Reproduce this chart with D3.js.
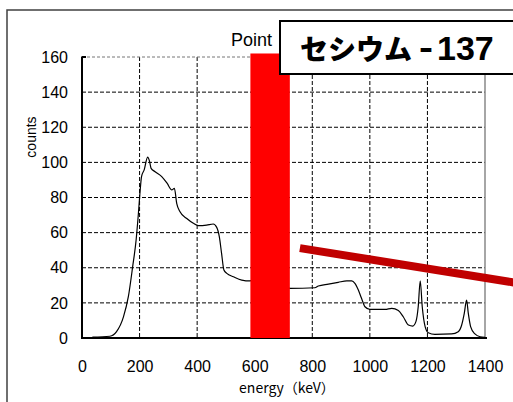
<!DOCTYPE html>
<html>
<head>
<meta charset="utf-8">
<script src="https://cdn.jsdelivr.net/npm/d3@7"></script>
<style>
  html, body { margin: 0; padding: 0; background: #fff; }
  svg { display: block; }
</style>
</head>
<body>
<script>
// Gamma-ray spectrum: energy (keV) vs counts
const energy = [36, 97, 120, 144, 161, 176, 188, 196, 201, 207, 216, 228, 234, 240, 254, 277, 296, 312, 321, 329, 340, 364, 387, 404, 433, 456, 468, 477, 485, 493, 503, 526, 555, 584,
  610, 635, 650, 662, 675, 690, 708,
  723, 809, 821, 856, 890, 920, 937, 948, 960, 971, 983, 1000, 1053, 1076, 1099, 1116, 1134, 1149, 1160, 1168, 1175, 1182, 1192, 1203, 1226, 1284, 1307, 1319, 1328, 1336, 1342, 1350, 1365, 1383, 1400];
const counts = [0.5, 1, 3.6, 12, 23.5, 40.6, 55.8, 71, 82, 92, 95.7, 103, 101, 96.6, 94.7, 91.9, 88, 84.3, 85.2, 76.7, 72, 68, 65.3, 64, 64.3, 64.9, 63, 57.7, 48, 38.7, 36.8, 34.9, 33, 32.5,
  40, 90, 140, 155, 120, 45, 29,
  28.3, 28.6, 29.6, 30.7, 31.7, 32.5, 32.5, 31.1, 27.3, 22.6, 17.8, 16.3, 16.3, 16.9, 15.6, 12.1, 7.4, 6.8, 9.3, 17.8, 32.6, 17.8, 6.5, 3, 2.1, 2.3, 3.6, 7.4, 14, 21.6, 14, 6.5, 2.3, 0.7, 0.4];

const xTicks = [0, 200, 400, 600, 800, 1000, 1200, 1400];
const yTicks = [0, 20, 40, 60, 80, 100, 120, 140, 160];

// Band hiding the 662 keV region, in data units
const bandEnergy = [585, 722];
const bandCounts = [0, 162];

// Slanted annotation stroke, in data units
const slashEnergy = [757, 1500];
const slashCounts = [51.2, 31.6];

const titleText = "Point";
const labelText = "セシウム";
const labelDash = "-";
const labelNumber = "137";
const xTitle = "energy（keV）";
const yTitle = "counts";

const W = 513, H = 402;
const svg = d3.select("body").append("svg").attr("width", W).attr("height", H);

// outer chart frame
svg.append("rect").attr("x", 7).attr("y", 10).attr("width", W).attr("height", H)
  .attr("fill", "#fff").attr("stroke", "#404040").attr("stroke-width", 1.5);

const x = d3.scaleLinear().domain([0, 1400]).range([82, 485]);
const y = d3.scaleLinear().domain([0, 160]).range([338, 57]);

// title (partly covered by the nuclide label)
svg.append("text").attr("x", 231).attr("y", 46)
  .attr("font-family", "Liberation Sans, Arial, sans-serif").attr("font-size", 18)
  .attr("fill", "#000").text(titleText);

// grid lines
const grid = svg.append("g");
grid.selectAll("line.v").data(xTicks.filter(d => d > 0 && d < 1400)).join("line")
  .attr("x1", d => x(d)).attr("x2", d => x(d)).attr("y1", y(160)).attr("y2", y(0))
  .attr("stroke", "#000").attr("stroke-width", 1).attr("stroke-dasharray", "4,2");
grid.selectAll("line.h").data(yTicks.filter(d => d > 0 && d < 160)).join("line")
  .attr("x1", x(0)).attr("x2", x(1400)).attr("y1", d => y(d)).attr("y2", d => y(d))
  .attr("stroke", "#000").attr("stroke-width", 1).attr("stroke-dasharray", "4,2");
grid.append("line").attr("x1", x(0)).attr("x2", x(1400)).attr("y1", y(160)).attr("y2", y(160))
  .attr("stroke", "#777").attr("stroke-width", 1).attr("stroke-dasharray", "3,2");
grid.append("line").attr("x1", x(1400)).attr("x2", x(1400)).attr("y1", y(160)).attr("y2", y(0))
  .attr("stroke", "#888").attr("stroke-width", 1.5);

// spectrum
const pts = energy.map((e, i) => [e, counts[i]]);
svg.append("path").datum(pts)
  .attr("d", d3.line().x(d => x(d[0])).y(d => y(d[1])).curve(d3.curveMonotoneX))
  .attr("fill", "none").attr("stroke", "#000").attr("stroke-width", 1.2);

// axes
const yAxis = d3.axisLeft(y).tickValues(yTicks).tickFormat(d3.format("d")).tickSize(0).tickPadding(14);
const gy = svg.append("g").attr("transform", `translate(${x(0)},0)`).call(yAxis);
const xAxis = d3.axisBottom(x).tickValues(xTicks).tickFormat(d3.format("d")).tickSize(0).tickPadding(23);
const gx = svg.append("g").attr("transform", `translate(0,${y(0)})`).call(xAxis);
[gx, gy].forEach(g => {
  g.select(".domain").remove();
  g.selectAll(".tick line").remove();
  g.selectAll("text").attr("font-family", "Liberation Sans, Arial, sans-serif")
    .attr("font-size", 16).attr("fill", "#000");
});
svg.append("line").attr("x1", x(0)).attr("x2", x(0)).attr("y1", y(160) - 0.5).attr("y2", y(0) + 1)
  .attr("stroke", "#000").attr("stroke-width", 2);
svg.append("line").attr("x1", x(0) - 1).attr("x2", x(1400) + 2).attr("y1", y(0)).attr("y2", y(0))
  .attr("stroke", "#000").attr("stroke-width", 2);
svg.append("line").attr("x1", x(0)).attr("x2", x(0) + 4).attr("y1", y(160)).attr("y2", y(160))
  .attr("stroke", "#000").attr("stroke-width", 2);

// axis titles
svg.append("text").attr("x", 287).attr("y", 393).attr("text-anchor", "middle")
  .attr("font-family", "Noto Sans CJK JP, sans-serif").attr("font-size", 14)
  .attr("fill", "#000").text(xTitle);
svg.append("text").attr("transform", "translate(36,137) rotate(-90)").attr("text-anchor", "middle")
  .attr("font-family", "Liberation Sans, Arial, sans-serif").attr("font-size", 14)
  .attr("fill", "#000").text(yTitle);

// red band
svg.append("rect")
  .attr("x", x(bandEnergy[0])).attr("width", x(bandEnergy[1]) - x(bandEnergy[0]))
  .attr("y", y(bandCounts[1])).attr("height", y(bandCounts[0]) - y(bandCounts[1]))
  .attr("fill", "#ff0000");

// slanted stroke
svg.append("line")
  .attr("x1", x(slashEnergy[0])).attr("y1", y(slashCounts[0]))
  .attr("x2", x(slashEnergy[1])).attr("y2", y(slashCounts[1]))
  .attr("stroke", "#c00000").attr("stroke-width", 8);

// nuclide label
svg.append("rect").attr("x", 280).attr("y", 21).attr("width", 260).attr("height", 53)
  .attr("fill", "#fff").attr("stroke", "#000").attr("stroke-width", 2);
const lbl = svg.append("text").attr("x", 300).attr("y", 60).attr("fill", "#000");
lbl.append("tspan").attr("font-family", "Noto Sans CJK JP, sans-serif").attr("font-weight", 900)
  .attr("font-size", 28).text(labelText);
lbl.append("tspan").attr("font-family", "Liberation Sans, Arial, sans-serif").attr("font-weight", "bold")
  .attr("font-size", 34).attr("dx", 7).attr("dy", -1).attr("textLength", 14).attr("lengthAdjust", "spacingAndGlyphs")
  .text(labelDash);
lbl.append("tspan").attr("font-family", "Liberation Sans, Arial, sans-serif").attr("font-weight", "bold")
  .attr("font-size", 34).attr("dx", 4).attr("dy", 1).text(labelNumber);
</script>
</body>
</html>
